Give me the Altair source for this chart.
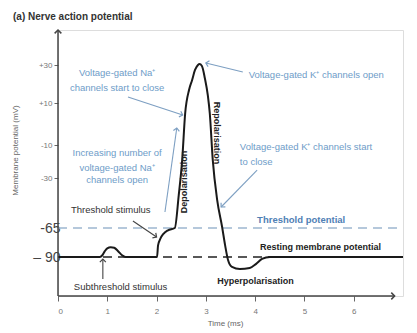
import math
import numpy as np
import pandas as pd
import altair as alt

# ---------------- data ----------------
curve_t = [0, 0.85, 0.9, 0.95, 1.0, 1.07, 1.14, 1.22, 1.3, 1.37, 2.01, 2.03, 2.08, 2.14,
           2.23, 2.37, 2.45, 2.52, 2.58, 2.66, 2.72, 2.78, 2.84, 2.87, 2.92, 2.98, 3.04,
           3.08, 3.14, 3.23, 3.33, 3.39, 3.45, 3.53, 3.69, 3.89, 4.02, 4.14, 4.30, 7.0]
curve_mv = [-90, -90, -88.5, -85, -82.5, -81.5, -82, -85, -88.5, -90, -90, -80, -74, -70,
            -67, -65, -42, -19, 5, 17, 22, 27.4, 30, 30.5, 29.5, 23, 14,
            5, -19, -45.5, -64.3, -79.7, -92.6, -98.7, -100.5, -99.6, -96, -91.7, -90, -90]

y_ticks = [30, 10, -10, -30, -65, -90]
x_ticks = [0, 1, 2, 3, 4, 5, 6]
threshold_mv = -65
resting_mv = -90

# text annotations: (text, t, mV)
blue_center = [("Voltage-gated Na\u207a", 1.20, 25.8),
               ("channels start to close", 1.20, 17.9),
               ("Increasing number of", 1.20, -14.8),
               ("voltage-gated Na\u207a", 1.20, -23.9),
               ("channels open", 1.20, -31.4)]
blue_left = [("Voltage-gated K\u207a channels open", 3.87, 25.0),
             ("Voltage-gated K\u207a channels start", 3.69, -11.2),
             ("to close", 3.69, -20.3)]
blue_bold = [("Threshold potential", 4.04, -59.4)]
dark_center = [("Threshold stimulus", 1.07, -52.4),
               ("Subthreshold stimulus", 1.27, -116.2)]
dark_bold = [("Resting membrane potential", 4.10, -81.4),
             ("Hyperpolarisation", 3.23, -110.9)]
rot_up = [("Depolarisation", 2.56, -32.8)]
rot_down = [("Repolarisation", 3.23, -4.3)]

# annotation arrows: (t1, mV1, t2, mV2, kind) -- head at (t2, mV2)
arrows = [(1.42, 13.2, 2.53, 4.3, "blue"),
          (3.75, 26.3, 3.0, 31.0, "blue"),
          (4.04, -25.2, 3.31, -50.3, "blue"),
          (2.17, -53.8, 2.41, -1.9, "blue"),
          (1.52, -60.1, 2.0, -72.8, "dark"),
          (0.91, -109.2, 0.91, -91.8, "dark")]
axis_lines = [(0, -124, 0, 48), (0, -124, 6.83, -124)]

# ---------------- scales ----------------
W, H = 345, 266
y_dom = [-124, -90, -65, -30, -10, 10, 30, 48]
y_rng = [266, 227, 198, 148, 115, 73, 35, 0]
xs = alt.Scale(domain=[0, 7], nice=False, zero=False)
ys = alt.Scale(domain=y_dom, range=y_rng, nice=False, zero=False)


def px(t, mv):
    return t * W / 7.0, float(np.interp(mv, y_dom, y_rng))


def head_angle(t1, m1, t2, m2):
    x1, y1 = px(t1, m1)
    x2, y2 = px(t2, m2)
    return math.degrees(math.atan2(x2 - x1, -(y2 - y1))) % 360


xaxis = alt.Axis(values=x_ticks, domain=False, grid=False, tickSize=5, tickColor="#666",
                 tickWidth=1, labelFontSize=8, labelColor="#777", labelPadding=6,
                 labelFont="Liberation Sans", title="Time (ms)", titleFontSize=8,
                 titleFontWeight="normal", titleColor="#666", titleFont="Liberation Sans",
                 titleX=167, titleY=27, titleBaseline="middle", titleAnchor="start",
                 titleAlign="center", labelOverlap=False)
yaxis = alt.Axis(values=y_ticks, domain=False, grid=False,
                 tickSize={"condition": {"test": "datum.value <= -65", "value": 0}, "value": 4},
                 tickColor="#666", tickWidth=1,
                 labelExpr="datum.value > 0 ? '+' + datum.value : (datum.value == -90 ? '\u2013 90' : '' + datum.value)",
                 labelFontSize={"condition": {"test": "datum.value <= -65", "value": 14}, "value": 8},
                 labelColor={"condition": {"test": "datum.value <= -65", "value": "#444"}, "value": "#777"},
                 labelPadding={"condition": {"test": "datum.value <= -65", "value": -2}, "value": 2},
                 labelFont="Liberation Sans", labelOverlap=False,
                 title="Membrane potential (mV)", titleFontSize=8, titleFontWeight="normal",
                 titleColor="#666", titleFont="Liberation Sans", titleX=-43, titleY=120,
                 titleBaseline="middle", titleAlign="center", titleAngle=270)

X = alt.X("t:Q", scale=xs, axis=xaxis)
Y = alt.Y("mv:Q", scale=ys, axis=yaxis)

FONT = "Liberation Sans"

# ---------------- layers ----------------
curve_df = pd.DataFrame({"t": curve_t, "mv": curve_mv})

hlines_df = pd.DataFrame({"t": [0, 0], "t2": [7, 7], "mv": [threshold_mv, resting_mv],
                          "kind": ["threshold", "resting"]})
thr = alt.Chart(hlines_df[hlines_df.kind == "threshold"]).mark_rule(
    color="#9db7cf", strokeWidth=1.6, strokeDash=[9, 6]).encode(x=X, x2="t2:Q", y=Y)
rest = alt.Chart(hlines_df[hlines_df.kind == "resting"]).mark_rule(
    color="#222", strokeWidth=1.6, strokeDash=[9, 6]).encode(x=X, x2="t2:Q", y=Y)

curve = alt.Chart(curve_df).mark_line(color="#1a1a1a", strokeWidth=2,
                                      interpolate="monotone").encode(x=X, y=Y)

ax_df = pd.DataFrame(axis_lines, columns=["t", "mv", "t2", "mv2"])
ax_rules = alt.Chart(ax_df).mark_rule(color="#444", strokeWidth=1.5).encode(
    x=X, y=Y, x2="t2:Q", y2="mv2:Q")
ax_heads_df = pd.DataFrame({"t": [0, 6.83], "mv": [48, -124],
                            "ang": [head_angle(0, -124, 0, 48), head_angle(0, -124, 6.83, -124)]})
CHEVRON = "M-1,1L0,0L1,1"
ax_heads = alt.Chart(ax_heads_df).mark_point(shape=CHEVRON, filled=False, size=45,
                                              color="#444", strokeWidth=1.5, opacity=1).encode(
    x=X, y=Y, angle=alt.Angle("ang:Q", scale=None))

ar_df = pd.DataFrame(arrows, columns=["t", "mv", "t2", "mv2", "kind"])
ar_df["ang"] = [head_angle(r.t, r.mv, r.t2, r.mv2) for r in ar_df.itertuples()]
col_scale = alt.Scale(domain=["blue", "dark"], range=["#7d9fc2", "#444"])
ar_rules = alt.Chart(ar_df).mark_rule(strokeWidth=1.1).encode(
    x=X, y=Y, x2="t2:Q", y2="mv2:Q", color=alt.Color("kind:N", scale=col_scale, legend=None))
heads_df = ar_df[["t2", "mv2", "kind", "ang"]].rename(columns={"t2": "t", "mv2": "mv"})
ar_heads = alt.Chart(heads_df).mark_point(shape=CHEVRON, filled=False, size=36, strokeWidth=1.2,
                                          opacity=1).encode(
    x=X, y=Y, angle=alt.Angle("ang:Q", scale=None),
    color=alt.Color("kind:N", scale=col_scale, legend=None))


def text_layer(rows, **kw):
    df = pd.DataFrame(rows, columns=["label", "t", "mv"])
    return alt.Chart(df).mark_text(font=FONT, baseline="middle", **kw).encode(
        x=X, y=Y, text="label:N")


texts = [
    text_layer(blue_center, align="center", fontSize=9.5, color="#6e9cc8"),
    text_layer(blue_left, align="left", fontSize=9.5, color="#6e9cc8"),
    text_layer(blue_bold, align="left", fontSize=9.5, color="#4f80b5", fontWeight="bold"),
    text_layer(dark_center, align="center", fontSize=9.5, color="#333"),
    text_layer(dark_bold, align="left", fontSize=9, color="#222", fontWeight="bold"),
    text_layer(rot_up, align="center", fontSize=9, color="#222", fontWeight="bold", angle=270),
    text_layer(rot_down, align="center", fontSize=9, color="#222", fontWeight="bold", angle=90),
]

chart = alt.layer(thr, rest, curve, ax_rules, ax_heads, ar_rules, ar_heads, *texts).properties(
    width=W, height=H,
    title=alt.TitleParams("(a) Nerve action potential", anchor="start", frame="group",
                          fontSize=10, fontWeight="bold", color="#333", font=FONT,
                          dx=-45, offset=5),
    autosize=alt.AutoSizeParams(type="none"),
    padding={"left": 58, "top": 30, "right": 14, "bottom": 37},
).configure_view(stroke=None).configure(background="white")

chart.save("out.html", embed_options={"renderer": "svg", "actions": False})
